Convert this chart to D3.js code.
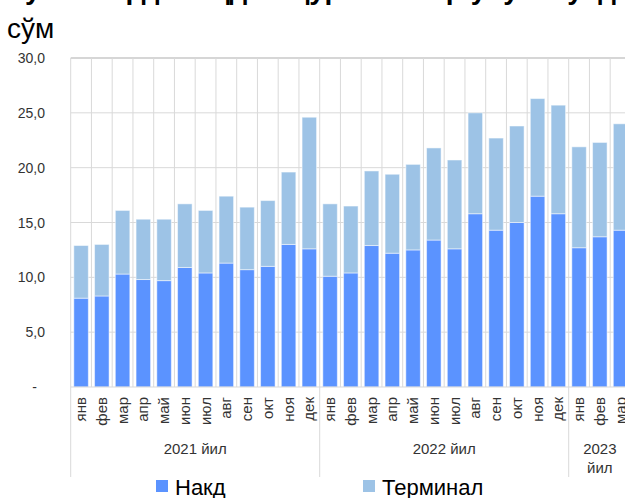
<!DOCTYPE html>
<html lang="uz">
  <head>
    <meta charset="utf-8">
    <style>
      body { margin: 0; background: #fff; }
      svg { display: block; font-family: "Liberation Sans", Arial, sans-serif; }
    </style>
  </head>
  <body>
    <div id="viz"></div>
    <script src="https://cdn.jsdelivr.net/npm/d3@7"></script>
<script type="text/javascript">

var w = 625, h = 498;

// months, grouped by year
var months = ["янв","фев","мар","апр","май","июн","июл","авг","сен","окт","ноя","дек",
              "янв","фев","мар","апр","май","июн","июл","авг","сен","окт","ноя","дек",
              "янв","фев","мар"];
var years = [
  {label:["2021 йил"], start:0, end:12},
  {label:["2022 йил"], start:12, end:24},
  {label:["2023", "йил"], start:24, end:27}
];

// trillion sum
var nakd =  [8.1, 8.3, 10.3, 9.8, 9.7, 10.9, 10.4, 11.3, 10.7, 11.0, 13.0, 12.6,
             10.1, 10.4, 12.9, 12.2, 12.5, 13.4, 12.6, 15.8, 14.3, 15.0, 17.4, 15.8,
             12.7, 13.7, 14.3];
var jami =  [12.9, 13.0, 16.1, 15.3, 15.3, 16.7, 16.1, 17.4, 16.4, 17.0, 19.6, 24.6,
             16.7, 16.5, 19.7, 19.4, 20.3, 21.8, 20.7, 25.0, 22.7, 23.8, 26.3, 25.7,
             21.9, 22.3, 24.0];
var terminal = jami.map((t,i)=>{ return +(t - nakd[i]).toFixed(1); });

var yTicks = [0, 5, 10, 15, 20, 25, 30];

var cNakd = "#5b93ff", cTerm = "#9dc3e6", cGrid = "#d9d9d9";

var svg = d3.select("#viz")
        .append("svg")
        .attr("width", w)
        .attr("height", h);

var x = d3.scaleBand()
  .domain(d3.range(months.length))
  .range([70.7, 70.7 + 20.75 * months.length])
  .paddingInner(0.3)
  .paddingOuter(0.15);

var y = d3.scaleLinear().domain([0, 30]).range([387, 58]);

var step = x.step();
function edge(i){ return x.range()[0] + i * step; }

// title (first line is cut off at the top of the picture)
svg.append("text")
  .attr("x", 8).attr("y", -1)
  .attr("font-size", 28).attr("font-weight", "bold").attr("fill", "#000")
  .text("Тўловларда нақд ва қурилмалар улуши ўсди, трлн");
svg.append("text")
  .attr("x", 7).attr("y", 38)
  .attr("font-size", 28).attr("fill", "#000")
  .text("сўм");

// horizontal grid
svg.selectAll(".hgrid")
  .data(yTicks.filter(d=>d>0))
  .enter().append("line")
  .attr("x1", edge(0)).attr("x2", w)
  .attr("y1", d=>y(d)).attr("y2", d=>y(d))
  .style("stroke", d=> d === 30 ? "#c8c8c8" : cGrid)
  .style("stroke-width", d=> d === 30 ? 1.5 : 1);

// vertical grid between months
svg.selectAll(".vgrid")
  .data(d3.range(1, months.length))
  .enter().append("line")
  .attr("x1", d=>edge(d)).attr("x2", d=>edge(d))
  .attr("y1", y(30)).attr("y2", y(0))
  .style("stroke", cGrid);

// y labels
svg.selectAll(".ylab")
  .data(yTicks)
  .enter().append("text")
  .attr("x", d=> d === 0 ? 37 : 45)
  .attr("y", d=>y(d) + 5)
  .attr("text-anchor", "end")
  .attr("font-size", 14)
  .attr("fill", "#333")
  .text(d=> d === 0 ? "-" : d3.format(".1f")(d).replace(".", ","));

// stacked bars
svg.selectAll(".nakd")
  .data(nakd)
  .enter().append("rect")
  .attr("x", (d,i)=>x(i))
  .attr("width", x.bandwidth())
  .attr("y", d=>y(d))
  .attr("height", d=>y(0) - y(d))
  .style("fill", cNakd)
  .style("stroke", "#fff").style("stroke-opacity", 0.5);

svg.selectAll(".term")
  .data(terminal)
  .enter().append("rect")
  .attr("x", (d,i)=>x(i))
  .attr("width", x.bandwidth())
  .attr("y", (d,i)=>y(nakd[i] + d))
  .attr("height", (d,i)=>y(nakd[i]) - y(nakd[i] + d))
  .style("fill", cTerm)
  .style("stroke", "#fff").style("stroke-opacity", 0.5);

// axis lines
svg.append("line")
  .attr("x1", edge(0)).attr("x2", w)
  .attr("y1", y(0)).attr("y2", y(0))
  .style("stroke", cGrid);

var sepBottom = 477;
svg.append("line")
  .attr("x1", edge(0)).attr("x2", edge(0))
  .attr("y1", y(30)).attr("y2", sepBottom)
  .style("stroke", cGrid);
svg.selectAll(".sep")
  .data(years.slice(1))
  .enter().append("line")
  .attr("x1", d=>edge(d.start)).attr("x2", d=>edge(d.start))
  .attr("y1", y(0)).attr("y2", sepBottom)
  .style("stroke", cGrid);

// month labels
svg.selectAll(".mlab")
  .data(months)
  .enter().append("text")
  .attr("transform", (d,i)=>"translate(" + (x(i) + x.bandwidth()/2 + 5) + "," + 397 + ") rotate(-90)")
  .attr("text-anchor", "end")
  .attr("font-size", 15)
  .attr("fill", "#333")
  .text(d=>d);

// year labels
years.forEach(function(g){
  var cx = (edge(g.start) + edge(g.end)) / 2;
  g.label.forEach(function(t, k){
    svg.append("text")
      .attr("x", cx).attr("y", 454 + k * 19)
      .attr("text-anchor", "middle")
      .attr("font-size", 15)
      .attr("fill", "#333")
      .text(t);
  });
});

// legend
var legend = [
  {name:"Накд", color:cNakd, x:156},
  {name:"Терминал", color:cTerm, x:363}
];
var lg = svg.selectAll(".lg").data(legend).enter().append("g");
lg.append("rect")
  .attr("x", d=>d.x).attr("y", 480)
  .attr("width", 12).attr("height", 12)
  .style("fill", d=>d.color);
lg.append("text")
  .attr("x", d=>d.x + 19).attr("y", 495)
  .attr("font-size", 22)
  .attr("fill", "#000")
  .text(d=>d.name);

</script>
  </body>
</html>
